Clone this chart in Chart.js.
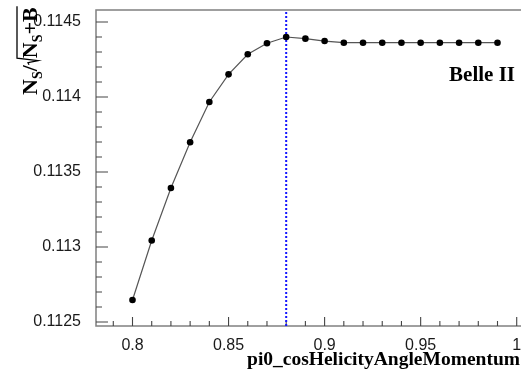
<!DOCTYPE html>
<html lang="en">
<head>
    <meta charset="UTF-8">
    <title>pi0 cosHelicityAngleMomentum cut scan</title>
    <script src="https://cdn.jsdelivr.net/npm/chart.js"></script>
    <style>
        html, body {
            margin: 0;
            padding: 0;
            background: #fff;
            overflow: hidden;
        }
        #wrap {
            width: 560px;
            height: 369px;
        }
    </style>
</head>
<body>
    <div id="wrap">
        <canvas id="scan" width="560" height="369"></canvas>
    </div>

    <script>
        // cut value on pi0_cosHelicityAngleMomentum and the figure of merit at each cut
        const cutValues = [0.80, 0.81, 0.82, 0.83, 0.84, 0.85, 0.86, 0.87, 0.88, 0.89,
                           0.90, 0.91, 0.92, 0.93, 0.94, 0.95, 0.96, 0.97, 0.98, 0.99];
        const fom = [0.112647, 0.113043, 0.113393, 0.113698, 0.113967, 0.114151, 0.114285, 0.114358, 0.114400, 0.114389,
                     0.114373, 0.114362, 0.114362, 0.114362, 0.114362, 0.114362, 0.114362, 0.114362, 0.114362, 0.114362];

        // chosen cut (dashed marker)
        const bestCut = [0.88];

        // axis ranges and labelled ticks
        const xRange = [0.781, 1.009];
        const yRange = [0.1124733, 0.11458];
        const xTicks = [0.8, 0.85, 0.9, 0.95, 1];
        const yTicks = [0.1125, 0.113, 0.1135, 0.114, 0.1145];

        function subTicks(majors, n, min, max) {
            const step = (majors[1] - majors[0]) / n;
            const first = Math.ceil((min - majors[0]) / step - 1e-6);
            const last = Math.floor((max - majors[0]) / step + 1e-6);
            const out = [];
            for (let i = first; i <= last; i++) {
                if (i % n !== 0) out.push(majors[0] + i * step);
            }
            return out;
        }

        // ROOT-like frame: inward ticks, y title with a square root, experiment label
        const framePlugin = {
            id: 'frame',
            beforeDatasetsDraw(chart) {
                const ctx = chart.ctx;
                const a = chart.chartArea;
                const xs = chart.scales.x;
                const ys = chart.scales.y;
                ctx.save();

                ctx.strokeStyle = '#808080';
                ctx.lineWidth = 1.5;
                ctx.strokeRect(a.left, a.top, a.right - a.left, a.bottom - a.top);

                ctx.strokeStyle = '#444';
                ctx.lineWidth = 1.1;
                ctx.beginPath();
                yTicks.forEach(v => {
                    const p = ys.getPixelForValue(v);
                    ctx.moveTo(a.left, p); ctx.lineTo(a.left + 12, p);
                });
                subTicks(yTicks, 5, yRange[0], yRange[1]).forEach(v => {
                    const p = ys.getPixelForValue(v);
                    ctx.moveTo(a.left, p); ctx.lineTo(a.left + 6, p);
                });
                xTicks.forEach(v => {
                    const p = xs.getPixelForValue(v);
                    ctx.moveTo(p, a.bottom); ctx.lineTo(p, a.bottom - 9);
                });
                subTicks(xTicks, 5, xRange[0], xRange[1]).forEach(v => {
                    const p = xs.getPixelForValue(v);
                    ctx.moveTo(p, a.bottom); ctx.lineTo(p, a.bottom - 5);
                });
                ctx.stroke();
                ctx.restore();
            },
            afterDraw(chart) {
                const ctx = chart.ctx;
                ctx.save();
                ctx.fillStyle = '#000';

                ctx.font = 'bold 21px "Liberation Serif"';
                ctx.textAlign = 'right';
                ctx.textBaseline = 'alphabetic';
                ctx.fillText('Belle II', 515, 81);

                ctx.font = 'bold 19.5px "Liberation Serif"';
                ctx.fillText('pi0_cosHelicityAngleMomentum', 520, 365);

                // N_S / sqrt(N_S + B), read bottom to top
                const big = 'bold 22px "Liberation Serif"';
                const small = 'bold 14px "Liberation Serif"';
                ctx.translate(37, 95);
                ctx.rotate(-Math.PI / 2);
                ctx.textAlign = 'left';
                let u = 0;
                function put(txt, font, dv) {
                    ctx.font = font;
                    ctx.fillText(txt, u, dv);
                    u += ctx.measureText(txt).width;
                }
                put('N', big, 0);
                put('S', small, 5);
                put('/', big, 0);
                const r0 = u + 0.5;
                u += 7;
                put('N', big, 0);
                put('S', small, 5);
                put('+B', big, 0);
                ctx.strokeStyle = '#000';
                ctx.lineWidth = 1.3;
                ctx.beginPath();
                ctx.moveTo(r0, -8);
                ctx.lineTo(r0 + 2, -9);
                ctx.lineTo(r0 + 4, 1);
                ctx.lineTo(r0 + 6.5, -20);
                ctx.lineTo(u + 1, -20);
                ctx.stroke();

                ctx.restore();
            }
        };

        const numFmt = d => v => String(parseFloat(Number(v).toFixed(d)));

        new Chart(document.getElementById('scan'), {
            type: 'line',
            data: {
                datasets: [{
                    data: cutValues.map((c, i) => ({ x: c, y: fom[i] })),
                    borderColor: '#555',
                    borderWidth: 1.2,
                    pointRadius: 3.3,
                    pointBackgroundColor: '#000',
                    pointBorderColor: '#000',
                    pointBorderWidth: 0,
                    tension: 0
                }, {
                    data: [{ x: bestCut[0], y: yRange[0] }, { x: bestCut[0], y: yRange[1] }],
                    borderColor: '#1515ff',
                    borderWidth: 2,
                    borderDash: [2, 2],
                    pointRadius: 0
                }]
            },
            options: {
                responsive: false,
                animation: false,
                devicePixelRatio: 1,
                layout: { padding: { top: 10, right: 26, left: 0, bottom: 0 } },
                plugins: { legend: { display: false }, tooltip: { enabled: false } },
                scales: {
                    x: {
                        type: 'linear',
                        min: xRange[0],
                        max: xRange[1],
                        grid: { display: false },
                        border: { display: false },
                        afterBuildTicks: s => { s.ticks = xTicks.map(v => ({ value: v })); },
                        afterFit: s => { s.height = 43; s.paddingLeft = 0; s.paddingRight = 0; },
                        ticks: {
                            autoSkip: false,
                            maxRotation: 0,
                            padding: 2,
                            color: '#1a1a1a',
                            font: { family: '"Liberation Sans"', size: 16 },
                            callback: numFmt(2)
                        }
                    },
                    y: {
                        type: 'linear',
                        min: yRange[0],
                        max: yRange[1],
                        grid: { display: false },
                        border: { display: false },
                        afterBuildTicks: s => { s.ticks = yTicks.map(v => ({ value: v })); },
                        afterFit: s => { s.width = 96; s.paddingTop = 0; s.paddingBottom = 0; },
                        ticks: {
                            autoSkip: false,
                            padding: 7,
                            color: '#1a1a1a',
                            font: { family: '"Liberation Sans"', size: 16 },
                            callback: numFmt(4)
                        }
                    }
                }
            },
            plugins: [framePlugin]
        });
    </script>
</body>
</html>
